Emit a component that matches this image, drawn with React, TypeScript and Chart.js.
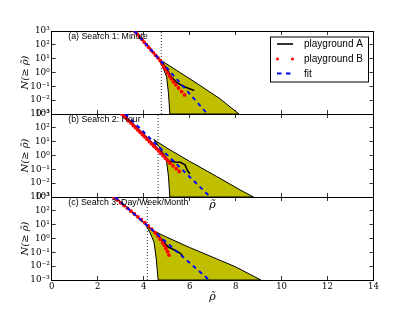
import React, { useEffect, useRef } from "react";
import { Chart, registerables } from "chart.js";

Chart.register(...registerables);

// ---------- data ----------
const xTickValues = [0, 2, 4, 6, 8, 10, 12, 14];
const yTickValues = [0.001, 0.01, 0.1, 1, 10, 100, 1000];
const yTickLabels = ["10⁻³", "10⁻²", "10⁻¹", "10⁰", "10¹", "10²", "10³"];
const legendLabels = ["playground A", "playground B", "fit"];
const panelTitles = ["(a) Search 1: Minute", "(b) Search 2: Hour", "(c) Search 3: Day/Week/Month"];
const thresholdX = [4.77, 4.63, 4.16];

// Panel (a)
const aFitX = [3.6, 6.78];
const aFitY = [1000, 0.001];
const aPlayAX = [3.6, 4.0, 4.4, 4.7, 4.95, 5.2, 5.45, 5.8, 6.2];
const aPlayAY = [1000, 178, 31.6, 8.9, 2.5, 0.5, 0.178, 0.089, 0.05];
const aPlayBX = [3.62, 3.72, 3.82, 3.92, 4.02, 4.12, 4.22, 4.32, 4.42, 4.52, 4.62, 4.72, 4.8, 4.88, 4.96, 5.04, 5.12, 5.2, 5.3, 5.4, 5.52, 5.65, 5.78];
const aPlayBY = [912, 603, 380, 251, 158, 102, 66, 41.7, 27.5, 17.4, 11.5, 7.2, 4.4, 2.6, 1.6, 0.95, 0.56, 0.35, 0.21, 0.126, 0.076, 0.042, 0.024];
const aUpperX = [4.5, 4.63, 5.43, 6.45, 7.32, 8.15];
const aUpperY = [17.8, 10.2, 1.45, 0.117, 0.0126, 0.001];
const aLowerX = [4.5, 4.71, 4.85, 5.0, 5.08, 5.14, 8.15];
const aLowerY = [17.8, 7.8, 2.0, 0.48, 0.032, 0.001, 0.001];

// Panel (b)
const bFitX = [3.2, 6.9];
const bFitY = [1000, 0.001];
const bPlayAX = [3.1, 3.8, 4.5, 4.9, 5.07, 5.36, 5.6, 5.8, 5.9, 6.01];
const bPlayAY = [1000, 70.8, 5.0, 1.0, 0.4, 0.34, 0.32, 0.21, 0.085, 0.048];
const bPlayBX = [3.05, 3.15, 3.25, 3.35, 3.45, 3.55, 3.65, 3.75, 3.85, 3.95, 4.05, 4.15, 4.25, 4.35, 4.45, 4.55, 4.65, 4.75, 4.85, 4.95, 5.05, 5.15, 5.28, 5.42, 5.55];
const bPlayBY = [1000, 692, 468, 316, 219, 148, 100, 69, 47, 31.6, 21.9, 14.8, 10, 6.9, 4.7, 3.16, 2.14, 1.41, 0.95, 0.63, 0.42, 0.28, 0.178, 0.112, 0.071];
const bUpperX = [4.45, 5.0, 6.0, 7.17, 8.19, 8.78];
const bUpperY = [14.1, 3.55, 0.38, 0.031, 0.0033, 0.001];
const bLowerX = [4.45, 4.71, 4.9, 5.0, 5.08, 5.14, 8.78];
const bLowerY = [14.1, 3.55, 1.0, 0.35, 0.032, 0.001, 0.001];

// Panel (c)
const cFitX = [2.75, 6.85];
const cFitY = [1000, 0.001];
const cPlayAX = [2.75, 3.5, 4.2, 4.6, 4.85, 5.07, 5.3, 5.58, 5.7];
const cPlayAY = [1000, 79, 7.1, 2.0, 0.63, 0.24, 0.16, 0.089, 0.056];
const cPlayBX = [2.72, 2.85, 3.0, 3.15, 3.3, 3.45, 3.6, 3.75, 3.9, 4.05, 4.2, 4.35, 4.5, 4.62, 4.72, 4.82, 4.9, 4.97, 5.04, 5.1];
const cPlayBY = [891, 603, 380, 240, 151, 95, 60, 37, 22.9, 13.8, 8.3, 4.8, 2.6, 1.5, 0.89, 0.5, 0.32, 0.19, 0.112, 0.063];
const cUpperX = [4.1, 4.5, 5.0, 6.0, 7.0, 8.0, 9.1];
const cUpperY = [8.9, 3.16, 1.26, 0.224, 0.045, 0.0089, 0.001];
const cLowerX = [4.1, 4.27, 4.45, 4.55, 4.63, 9.1];
const cLowerY = [8.9, 2.8, 0.56, 0.032, 0.001, 0.001];

// ---------- layout ----------
const W = 415;
const H = 312;
const AREA_LEFT = 51.7;
const AREA_RIGHT = 373.5;
const TOPS = [31, 114, 197];
const BOTTOMS = [114, 197, 280];
const XAXIS_H = [0, 15, 24];

const BAND = "#bfbf00";
const SERIF = "'DejaVu Serif', serif";
const SANS = "'Liberation Sans', Arial, sans-serif";

type PanelData = {
  fitX: number[]; fitY: number[];
  aX: number[]; aY: number[];
  bX: number[]; bY: number[];
  upX: number[]; upY: number[];
  loX: number[]; loY: number[];
};

const panels: PanelData[] = [
  { fitX: aFitX, fitY: aFitY, aX: aPlayAX, aY: aPlayAY, bX: aPlayBX, bY: aPlayBY, upX: aUpperX, upY: aUpperY, loX: aLowerX, loY: aLowerY },
  { fitX: bFitX, fitY: bFitY, aX: bPlayAX, aY: bPlayAY, bX: bPlayBX, bY: bPlayBY, upX: bUpperX, upY: bUpperY, loX: bLowerX, loY: bLowerY },
  { fitX: cFitX, fitY: cFitY, aX: cPlayAX, aY: cPlayAY, bX: cPlayBX, bY: cPlayBY, upX: cUpperX, upY: cUpperY, loX: cLowerX, loY: cLowerY },
];

const pts = (xs: number[], ys: number[]) => xs.map((x, i) => ({ x, y: ys[i] }));

const tickGrid = {
  display: true,
  drawOnChartArea: false,
  drawTicks: true,
  tickLength: -4,
  color: "#000",
  lineWidth: 0.8,
};
const axisBorder = { display: true, color: "#000", width: 1 };

function yLabel(v: number) {
  const k = Math.round(Math.log10(v)) + 3;
  return yTickLabels[k] ?? "";
}

function Panel({ idx }: { idx: number }) {
  const ref = useRef<HTMLCanvasElement>(null);
  useEffect(() => {
    const d = panels[idx];
    const t = thresholdX[idx];
    const overlay = {
      id: "overlay" + idx,
      afterDatasetsDraw(chart: any) {
        const { ctx, chartArea } = chart;
        ctx.save();
        ctx.fillStyle = "#000";
        ctx.font = `8.8px ${SANS}`;
        ctx.textBaseline = "middle";
        ctx.textAlign = "left";
        ctx.fillText(panelTitles[idx], chartArea.left + 16.6, chartArea.top + 6);
        if (idx === 0) {
          const bx = chartArea.right - 103.5;
          const by = chartArea.top + 5.5;
          const bw = 98;
          const bh = 45;
          ctx.fillStyle = "#fff";
          ctx.fillRect(bx, by, bw, bh);
          ctx.strokeStyle = "#000";
          ctx.lineWidth = 1;
          ctx.strokeRect(bx + 0.5, by + 0.5, bw, bh);
          const rows = [by + 7.5, by + 22.5, by + 37];
          ctx.beginPath();
          ctx.lineWidth = 1.6;
          ctx.moveTo(bx + 7, rows[0]);
          ctx.lineTo(bx + 23, rows[0]);
          ctx.stroke();
          ctx.fillStyle = "#ff0000";
          [bx + 7.5, bx + 22.5].forEach((px) => {
            ctx.beginPath();
            ctx.arc(px, rows[1], 1.5, 0, Math.PI * 2);
            ctx.fill();
          });
          ctx.strokeStyle = "#0000ff";
          ctx.lineWidth = 1.8;
          ctx.setLineDash([4.5, 4.5]);
          ctx.beginPath();
          ctx.moveTo(bx + 7, rows[2]);
          ctx.lineTo(bx + 23, rows[2]);
          ctx.stroke();
          ctx.setLineDash([]);
          ctx.fillStyle = "#000";
          ctx.font = `10px ${SANS}`;
          legendLabels.forEach((s, i) => ctx.fillText(s, bx + 34, rows[i] + 0.5));
        }
        ctx.restore();
      },
    };
    const cfg: any = {
      type: "line",
      data: {
        datasets: [
          {
            label: "fit",
            data: pts(d.fitX, d.fitY),
            borderColor: "#0000ff",
            borderDash: [4, 4],
            borderWidth: 1.9,
            pointRadius: 0,
            fill: false,
            order: 1,
            xAxisID: "x",
            yAxisID: "y",
          },
          {
            label: "playground B",
            data: pts(d.bX, d.bY),
            showLine: false,
            pointRadius: 1.9,
            pointBackgroundColor: "#ff0000",
            pointBorderWidth: 0,
            order: 2,
            xAxisID: "x",
            yAxisID: "y",
          },
          {
            label: "playground A",
            data: pts(d.aX, d.aY),
            borderColor: "#000",
            borderWidth: 1.5,
            pointRadius: 0,
            fill: false,
            order: 3,
            xAxisID: "x",
            yAxisID: "y",
          },
          {
            label: "threshold",
            data: [{ x: t, y: 0.001 }, { x: t, y: 1000 }],
            borderColor: "#000",
            borderDash: [1, 2],
            borderWidth: 0.8,
            pointRadius: 0,
            fill: false,
            order: 4,
            xAxisID: "x",
            yAxisID: "y",
          },
          {
            label: "upper",
            data: pts(d.upX, d.upY),
            borderColor: "#000",
            borderWidth: 1,
            backgroundColor: BAND,
            pointRadius: 0,
            fill: "+1",
            order: 6,
            xAxisID: "x",
            yAxisID: "y",
          },
          {
            label: "lower",
            data: pts(d.loX, d.loY),
            borderColor: "#000",
            borderWidth: 1,
            pointRadius: 0,
            fill: false,
            order: 5,
            xAxisID: "x",
            yAxisID: "y",
          },
        ],
      },
      options: {
        responsive: false,
        animation: false,
        devicePixelRatio: 1,
        events: [],
        layout: {
          padding: {
            left: 0,
            right: W - AREA_RIGHT,
            top: TOPS[idx],
            bottom: H - BOTTOMS[idx] - XAXIS_H[idx],
          },
        },
        elements: { line: { tension: 0 } },
        plugins: { legend: { display: false }, tooltip: { enabled: false } },
        scales: {
          x: {
            type: "linear",
            position: "bottom",
            min: 0,
            max: 14,
            afterBuildTicks: (s: any) => { s.ticks = xTickValues.map((v) => ({ value: v })); },
            afterFit: (s: any) => { s.height = XAXIS_H[idx]; },
            ticks: {
              display: idx === 2,
              autoSkip: false,
              maxRotation: 0,
              padding: 6,
              color: "#000",
              font: { family: SERIF, size: 8.5 },
            },
            grid: tickGrid,
            border: axisBorder,
            title: {
              display: idx > 0,
              text: "ρ̃",
              color: "#000",
              padding: 0,
              font: { family: SERIF, size: 11, style: "italic" },
            },
          },
          x2: {
            type: "linear",
            position: "top",
            min: 0,
            max: 14,
            afterBuildTicks: (s: any) => { s.ticks = xTickValues.map((v) => ({ value: v })); },
            afterFit: (s: any) => { s.height = 0; },
            ticks: { display: false },
            grid: tickGrid,
            border: axisBorder,
          },
          y: {
            type: "logarithmic",
            position: "left",
            min: 0.001,
            max: 1000,
            afterBuildTicks: (s: any) => { s.ticks = yTickValues.map((v) => ({ value: v })); },
            afterFit: (s: any) => { s.width = AREA_LEFT; },
            ticks: {
              autoSkip: false,
              padding: 6,
              color: "#000",
              font: { family: SERIF, size: 8.8 },
              callback: (v: any) => yLabel(Number(v)),
            },
            grid: tickGrid,
            border: axisBorder,
            title: {
              display: true,
              text: "N(≥ ρ̃)",
              color: "#000",
              padding: { top: 19, bottom: 0 },
              font: { family: SERIF, size: 10, style: "italic" },
            },
          },
          y2: {
            type: "logarithmic",
            position: "right",
            min: 0.001,
            max: 1000,
            afterBuildTicks: (s: any) => { s.ticks = yTickValues.map((v) => ({ value: v })); },
            afterFit: (s: any) => { s.width = 0; },
            ticks: { display: false },
            grid: tickGrid,
            border: axisBorder,
          },
        },
      },
      plugins: [overlay],
    };
    const chart = new Chart(ref.current as HTMLCanvasElement, cfg);
    return () => chart.destroy();
  }, [idx]);
  return (
    <canvas
      ref={ref}
      width={W}
      height={H}
      style={{ position: "absolute", left: 0, top: 0, width: W, height: H }}
    />
  );
}

export default function App() {
  return (
    <div style={{ position: "fixed", left: 0, top: 0, width: W, height: H, background: "#fff" }}>
      <Panel idx={0} />
      <Panel idx={1} />
      <Panel idx={2} />
    </div>
  );
}
